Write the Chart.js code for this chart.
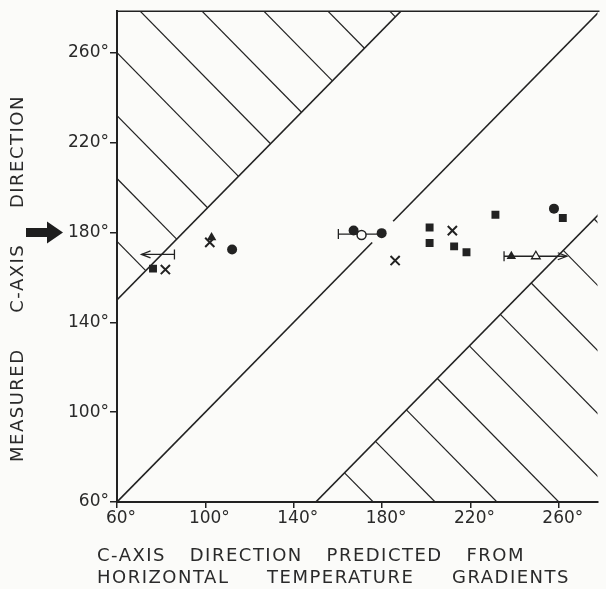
<!DOCTYPE html>
<html><head><meta charset="utf-8">
<script src="https://cdn.jsdelivr.net/npm/chart.js@4.4.0/dist/chart.umd.min.js"></script>
<style>html,body{margin:0;padding:0;background:#fbfbf9;overflow:hidden}#wrap{width:606px;height:589px}</style>
</head><body><div id="wrap"><canvas id="c" width="606" height="589"></canvas></div>
<script>
// ---- data ----
const xTicks = [60, 100, 140, 180, 220, 260];
const yTicks = [60, 100, 140, 180, 220, 260];
const xRange = [60, 277.5];
const yRange = [60, 278.5];
const bandOffsets = [90, -90];          // boundaries y = x + offset
const diagGap = [175.5, 185];           // break in the y = x line
const hatchSums = [236, 264, 292, 320, 349, 377, 405, 434, 462]; // hatch lines x + y = c
const squares = [[76.3,163.9],[201.5,182.2],[201.5,175.3],[212.6,173.8],[218.2,171.2],[231.3,187.9],[261.8,186.4]];
const filledCircles = [[112.1,172.4],[167.1,180.9],[179.8,179.7],[257.8,190.6]];
const openCircles = [[170.7,178.9]];
const crosses = [[81.9,163.5],[102.0,175.6],[185.9,167.5],[211.8,180.8]];
const filledTriangles = [[102.8,177.8],[238.5,169.4]];
const openTriangles = [[249.6,169.4]];
const errY = [170.2, 179.3, 169.4];
const errCap = [86.0, 160.2, 235.2];
const errEnd = [71.1, 180.0, 263.6];
const errArrow = [true, false, true];
const markY = 180;
const xTitle = [["C-AXIS","DIRECTION","PREDICTED","FROM"],["HORIZONTAL","TEMPERATURE","GRADIENTS"]];
const yTitle = ["MEASURED","C-AXIS","DIRECTION"];

// ---- style ----
const INK = '#222222';
const BG = '#fbfbf9';
const FONT = "'DejaVu Sans'";

const pts = a => a.map(p => ({x:p[0], y:p[1]}));
const lineDs = (data, w) => ({data, showLine:true, pointRadius:0, borderColor:INK, borderWidth:w, fill:false});

const datasets = [];
// y = x with a gap
datasets.push(lineDs([{x:xRange[0],y:xRange[0]},{x:diagGap[0],y:diagGap[0]}],1.6));
datasets.push(lineDs([{x:diagGap[1],y:diagGap[1]},{x:300,y:300}],1.6));
// band boundaries
bandOffsets.forEach(o => {
  datasets.push(lineDs([{x:0,y:o},{x:400,y:400+o}],1.6));
});
// hatching
hatchSums.forEach(c => {
  const up = {x:(c-90)/2, y:(c+90)/2};
  if (up.x >= xRange[0] && up.y <= yRange[1]) datasets.push(lineDs([up,{x:xRange[0],y:c-xRange[0]}],1.2));
  const lo = {x:(c+90)/2, y:(c-90)/2};
  if (lo.y >= yRange[0] && lo.x <= xRange[1]) datasets.push(lineDs([lo,{x:c-yRange[0],y:yRange[0]}],1.2));
});
// markers
datasets.push({data:pts(squares), pointStyle:'rect', pointRadius:5.6, backgroundColor:INK, borderColor:INK, borderWidth:0});
datasets.push({data:pts(filledCircles), pointStyle:'circle', pointRadius:5, backgroundColor:INK, borderColor:INK, borderWidth:0});
datasets.push({data:pts(openCircles), pointStyle:'circle', pointRadius:4.5, backgroundColor:BG, borderColor:INK, borderWidth:1.5});
datasets.push({data:pts(crosses), pointStyle:'crossRot', pointRadius:6.5, borderColor:INK, borderWidth:2});
datasets.push({data:pts(filledTriangles), pointStyle:'triangle', pointRadius:5.5, backgroundColor:INK, borderColor:INK, borderWidth:0});
datasets.push({data:pts(openTriangles), pointStyle:'triangle', pointRadius:5, backgroundColor:BG, borderColor:INK, borderWidth:1.3});

function justify(ctx, words, a, b, draw) {
  const ws = words.map(w => ctx.measureText(w).width);
  const total = ws.reduce((s,v)=>s+v,0);
  const gap = (b - a - total) / (words.length - 1);
  let p = a;
  words.forEach((w,i) => { draw(w, p); p += ws[i] + gap; });
}

const decor = {
  id:'decor',
  beforeDatasetsDraw(chart) {
    const {ctx, scales:{x, y}} = chart;
    ctx.save();
    ctx.strokeStyle = INK; ctx.lineWidth = 1.3;
    errY.forEach((v,i) => {
      const py = y.getPixelForValue(v);
      const pc = x.getPixelForValue(errCap[i]);
      const pe = x.getPixelForValue(errEnd[i]);
      ctx.beginPath(); ctx.moveTo(pc,py); ctx.lineTo(pe,py); ctx.stroke();
      ctx.beginPath(); ctx.moveTo(pc,py-5); ctx.lineTo(pc,py+5); ctx.stroke();
      if (errArrow[i]) {
        const d = Math.sign(pe - pc);
        ctx.beginPath(); ctx.moveTo(pe-d*9,py-3.5); ctx.lineTo(pe,py); ctx.lineTo(pe-d*9,py+3.5); ctx.stroke();
      }
    });
    ctx.restore();
  },
  afterDraw(chart) {
    const {ctx, chartArea:ca, scales:{y}} = chart;
    ctx.save();
    // top frame
    ctx.strokeStyle = INK; ctx.lineWidth = 1.6;
    ctx.beginPath(); ctx.moveTo(ca.left, ca.top); ctx.lineTo(ca.right+2, ca.top); ctx.stroke();
    // big arrow marking 180
    const ay = y.getPixelForValue(markY);
    ctx.fillStyle = '#1e1e1e';
    ctx.beginPath();
    ctx.moveTo(26, ay-4.5); ctx.lineTo(47, ay-4.5); ctx.lineTo(47, ay-11); ctx.lineTo(63, ay);
    ctx.lineTo(47, ay+11); ctx.lineTo(47, ay+4.5); ctx.lineTo(26, ay+4.5); ctx.closePath(); ctx.fill();
    // titles
    ctx.fillStyle = '#2a2a2a';
    ctx.font = `18px ${FONT}`;
    ctx.letterSpacing = '1.5px';
    ctx.textBaseline = 'middle'; ctx.textAlign = 'left';
    justify(ctx, xTitle[0], 97, 525, (w,p)=>ctx.fillText(w,p,556));
    justify(ctx, xTitle[1], 97, 570, (w,p)=>ctx.fillText(w,p,578));
    ctx.translate(18, 0); ctx.rotate(-Math.PI/2);
    justify(ctx, yTitle, -462, -95, (w,p)=>ctx.fillText(w,p,0));
    ctx.restore();
  }
};

new Chart(document.getElementById('c'), {
  type:'scatter',
  data:{datasets},
  plugins:[decor],
  options:{
    responsive:false, animation:false, devicePixelRatio:1,
    layout:{padding:{top:9, left:0, right:0, bottom:0}},
    plugins:{legend:{display:false}, tooltip:{enabled:false}},
    scales:{
      x:{type:'linear', min:xRange[0], max:xRange[1],
        afterBuildTicks:s=>{s.ticks = xTicks.map(v=>({value:v}));},
        afterFit:s=>{s.height = 87;},
        ticks:{callback:v=>v+'°', font:{family:FONT, size:17}, color:'#2a2a2a', padding:0, labelOffset:4, maxRotation:0, autoSkip:false},
        grid:{display:true, drawOnChartArea:false, drawTicks:true, tickLength:6, color:INK, lineWidth:1.5},
        border:{display:true, color:INK, width:2}},
      y:{type:'linear', min:yRange[0], max:yRange[1],
        afterBuildTicks:s=>{s.ticks = yTicks.map(v=>({value:v}));},
        afterFit:s=>{s.width = 117;},
        ticks:{callback:v=>v+'°', font:{family:FONT, size:17}, color:'#2a2a2a', padding:1, autoSkip:false},
        grid:{display:true, drawOnChartArea:false, drawTicks:true, tickLength:7, color:INK, lineWidth:1.5},
        border:{display:true, color:INK, width:2}}
    }
  }
});
</script></body></html>
